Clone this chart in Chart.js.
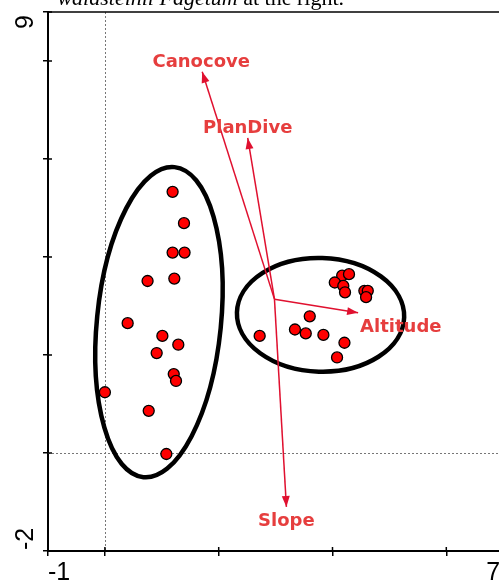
<!DOCTYPE html>
<html>
<head>
<meta charset="utf-8">
<script src="https://cdn.jsdelivr.net/npm/chart.js@4.4.0/dist/chart.umd.min.js"></script>
<style>
  html, body { margin: 0; padding: 0; background: #fff; overflow: hidden; }
  #wrap { position: relative; width: 510px; height: 583px; }
  #caption { position: absolute; top: -13px; right: 166px; font-family: "Liberation Serif", serif; font-size: 22px; line-height: 22px; white-space: nowrap; color: #000; }
  canvas { position: absolute; left: 0; top: 0; }
</style>
</head>
<body>
<div id="wrap">
  <canvas id="ordination" width="510" height="583"></canvas>
  <div id="caption"><i>waldsteinii Fagetum</i> at the right.</div>
</div>
<script>
// site scores - left cluster
const leftX = [1.19, 1.39, 1.19, 1.40, 0.75, 1.22, 0.40, 1.01, 1.29, 0.91, 1.21, 1.25, 0.00, 0.77, 1.08];
const leftY = [5.33, 4.69, 4.09, 4.09, 3.51, 3.56, 2.65, 2.39, 2.21, 2.04, 1.61, 1.47, 1.24, 0.86, -0.02];

// site scores - right cluster
const rightX = [4.17, 4.29, 4.04, 4.19, 4.22, 4.56, 4.62, 4.59, 3.60, 3.34, 3.53, 3.84, 2.72, 4.21, 4.08];
const rightY = [3.62, 3.65, 3.48, 3.41, 3.28, 3.31, 3.31, 3.18, 2.79, 2.52, 2.44, 2.41, 2.39, 2.25, 1.95];

// environmental vectors
const vectorNames = ['Canocove', 'PlanDive', 'Altitude', 'Slope'];
const vectorX = [1.71, 2.51, 4.45, 3.19];
const vectorY = [7.78, 6.43, 2.86, -1.10];
const vectorOrigin = [2.98, 3.14];

// group ellipses (centre and radii in axis units)
const ellipseX = [0.95, 3.79];
const ellipseY = [2.67, 2.82];
const ellipseRx = [1.09, 1.47];
const ellipseRy = [3.18, 1.16];
const ellipseTilt = [0.10, 0.03];

// axes
const xTicks = [-1, 0, 2, 4, 6, 7];
const yTicks = [-2, 0, 2, 4, 6, 8, 9];
const xTickLabels = ['-1', '7'];
const yTickLabels = ['-2', '9'];

const red = '#e0102f';
const labelRed = '#e63e3e';

// label placement relative to arrow tip (px)
const labelPos = {
  Canocove: { dx: -1, dy: -5, align: 'center' },
  PlanDive: { dx: 0, dy: -5, align: 'center' },
  Altitude: { dx: 2, dy: 19, align: 'left' },
  Slope: { dx: 0, dy: 19, align: 'center' }
};

function toPoints(xs, ys) {
  return xs.map((x, i) => ({ x: x, y: ys[i] }));
}

const siteStyle = {
  pointRadius: 5.5,
  pointBackgroundColor: '#ff0000',
  pointBorderColor: '#000',
  pointBorderWidth: 1.3,
  showLine: false
};

const datasets = [
  Object.assign({ label: 'left', data: toPoints(leftX, leftY) }, siteStyle),
  Object.assign({ label: 'right', data: toPoints(rightX, rightY) }, siteStyle)
];
vectorNames.forEach((name, i) => {
  datasets.push({
    label: name,
    data: [{ x: vectorOrigin[0], y: vectorOrigin[1] }, { x: vectorX[i], y: vectorY[i] }],
    showLine: true,
    borderColor: red,
    borderWidth: 1.5,
    pointRadius: 0
  });
});

const decor = {
  id: 'decor',
  beforeDatasetsDraw(chart) {
    const { ctx, chartArea: a, scales: { x, y } } = chart;
    ctx.save();
    // zero lines
    ctx.strokeStyle = '#777';
    ctx.lineWidth = 1;
    ctx.setLineDash([2, 2]);
    const x0 = Math.round(x.getPixelForValue(0)) + 0.5;
    const y0 = Math.round(y.getPixelForValue(0)) + 0.5;
    ctx.beginPath();
    ctx.moveTo(x0, a.top); ctx.lineTo(x0, a.bottom);
    ctx.moveTo(a.left, y0); ctx.lineTo(a.right, y0);
    ctx.stroke();
    ctx.setLineDash([]);
    // top frame line
    ctx.strokeStyle = '#000';
    ctx.lineWidth = 1.5;
    ctx.beginPath();
    ctx.moveTo(a.left, a.top); ctx.lineTo(a.right, a.top);
    ctx.stroke();
    // tick marks poking into the plot
    ctx.lineWidth = 1.5;
    ctx.beginPath();
    xTicks.forEach(v => { const p = x.getPixelForValue(v); ctx.moveTo(p, a.bottom); ctx.lineTo(p, a.bottom - 4); });
    yTicks.forEach(v => { const p = y.getPixelForValue(v); ctx.moveTo(a.left, p); ctx.lineTo(a.left + 4, p); });
    ctx.stroke();
    // ellipses
    ctx.lineWidth = 4.5;
    ellipseX.forEach((cx, i) => {
      const px = x.getPixelForValue(cx);
      const py = y.getPixelForValue(ellipseY[i]);
      const rx = Math.abs(x.getPixelForValue(cx + ellipseRx[i]) - px);
      const ry = Math.abs(y.getPixelForValue(ellipseY[i] + ellipseRy[i]) - py);
      ctx.beginPath();
      ctx.ellipse(px, py, rx, ry, ellipseTilt[i], 0, Math.PI * 2);
      ctx.stroke();
    });
    ctx.restore();
  },
  afterDatasetsDraw(chart) {
    const { ctx, scales: { x, y } } = chart;
    ctx.save();
    vectorNames.forEach((name, i) => {
      const ox = x.getPixelForValue(vectorOrigin[0]);
      const oy = y.getPixelForValue(vectorOrigin[1]);
      const tx = x.getPixelForValue(vectorX[i]);
      const ty = y.getPixelForValue(vectorY[i]);
      const ang = Math.atan2(ty - oy, tx - ox);
      const len = 11, half = 4;
      ctx.fillStyle = red;
      ctx.beginPath();
      ctx.moveTo(tx, ty);
      ctx.lineTo(tx - len * Math.cos(ang) + half * Math.sin(ang), ty - len * Math.sin(ang) - half * Math.cos(ang));
      ctx.lineTo(tx - len * Math.cos(ang) - half * Math.sin(ang), ty - len * Math.sin(ang) + half * Math.cos(ang));
      ctx.closePath();
      ctx.fill();
      const p = labelPos[name];
      ctx.fillStyle = labelRed;
      ctx.font = 'bold 18px "DejaVu Sans"';
      ctx.textAlign = p.align;
      ctx.textBaseline = 'alphabetic';
      ctx.fillText(name, tx + p.dx, ty + p.dy);
    });
    ctx.restore();
  },
  afterDraw(chart) {
    const { ctx, scales: { x, y } } = chart;
    ctx.save();
    ctx.fillStyle = '#000';
    ctx.font = '25px "Liberation Sans"';
    ctx.textBaseline = 'alphabetic';
    // x labels: first starts at axis start, last ends near the edge of the window
    ctx.textAlign = 'left';
    ctx.fillText(xTickLabels[0], x.getPixelForValue(xTicks[0]), 580);
    ctx.textAlign = 'right';
    ctx.fillText(xTickLabels[1], x.getPixelForValue(xTicks[xTicks.length - 1]) - 3, 580);
    // y labels rotated
    const bx = 33;
    ctx.save();
    ctx.translate(bx, y.getPixelForValue(yTicks[0]) - 1);
    ctx.rotate(-Math.PI / 2);
    ctx.textAlign = 'left';
    ctx.fillText(yTickLabels[0], 0, 0);
    ctx.restore();
    ctx.save();
    ctx.translate(bx, y.getPixelForValue(yTicks[yTicks.length - 1]) + 3);
    ctx.rotate(-Math.PI / 2);
    ctx.textAlign = 'right';
    ctx.fillText(yTickLabels[1], 0, 0);
    ctx.restore();
    ctx.restore();
  }
};

const axisCommon = {
  type: 'linear',
  border: { display: true, color: '#000', width: 2 },
  grid: { drawOnChartArea: false, drawTicks: true, tickLength: 5, color: '#000', tickColor: '#000', lineWidth: 1.5 },
  ticks: { display: false }
};

new Chart(document.getElementById('ordination').getContext('2d'), {
  type: 'scatter',
  data: { datasets: datasets },
  options: {
    responsive: false,
    animation: false,
    layout: { padding: { left: 40, right: 0, top: 12, bottom: 24 } },
    scales: {
      x: Object.assign({}, axisCommon, {
        min: -1, max: 7,
        afterBuildTicks: s => { s.ticks = xTicks.map(v => ({ value: v })); },
        afterFit: s => { s.height = 8; }
      }),
      y: Object.assign({}, axisCommon, {
        min: -2, max: 9,
        afterBuildTicks: s => { s.ticks = yTicks.map(v => ({ value: v })); },
        afterFit: s => { s.width = 8; }
      })
    },
    plugins: {
      legend: { display: false },
      tooltip: { enabled: false }
    }
  },
  plugins: [decor]
});
</script>
</body>
</html>
